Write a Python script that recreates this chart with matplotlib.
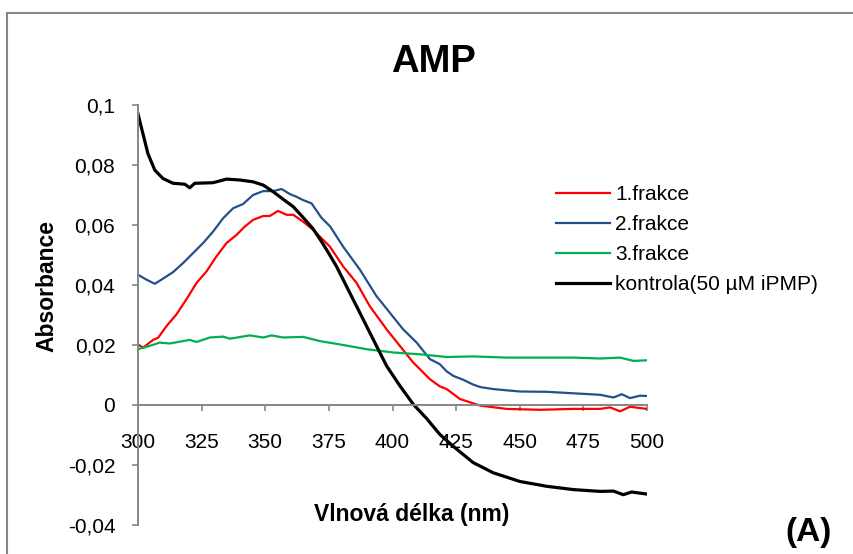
import matplotlib
matplotlib.use("Agg")
import matplotlib.pyplot as plt
from matplotlib.patches import Rectangle

plt.rcParams['font.family'] = ['Liberation Sans', 'DejaVu Sans']

# 1.frakce
wl_1 = [300, 302, 305.9, 307.9, 311.2, 315.1, 319, 323, 326.9, 330.8, 334.8, 338.7, 342, 345.2,
        349.2, 351.8, 355, 358.4, 361, 364.9, 368.8, 375.4, 380.6, 385.9, 391.1, 397.7, 402.9,
        408.1, 414.7, 418.6, 421.3, 426.5, 434.4, 444.9, 458, 471.1, 481.6, 485.5, 489.4, 493.3, 500]
abs_1 = [0.0202, 0.0191, 0.0217, 0.0224, 0.0263, 0.0302, 0.0352, 0.0407, 0.0445, 0.0495, 0.054,
         0.0567, 0.0595, 0.0617, 0.063, 0.063, 0.0647, 0.0634, 0.0634, 0.0611, 0.0584, 0.0528,
         0.0462, 0.0407, 0.0329, 0.0252, 0.0197, 0.0142, 0.0086, 0.0062, 0.0053, 0.002, -0.0002,
         -0.0013, -0.0016, -0.0013, -0.0013, -0.0008, -0.0021, -0.0006, -0.0013]

# 2.frakce
wl_2 = [300, 303.3, 306.6, 309.8, 313.8, 317.7, 321.6, 325.6, 329.5, 333.4, 337.4, 341.3, 345.2,
        349.2, 353.1, 356.4, 359.7, 362.3, 364.9, 368.2, 372, 375.5, 380.6, 387.2, 393.7, 399,
        404.2, 409.5, 414.7, 418.6, 421.3, 423.9, 427.8, 431.7, 434.4, 439.6, 450.1, 460.6, 471.1,
        481.6, 486.8, 490.1, 493.3, 497.3, 500]
abs_2 = [0.0434, 0.0418, 0.0404, 0.0421, 0.0443, 0.0473, 0.0506, 0.054, 0.0578, 0.0622, 0.0656,
         0.067, 0.07, 0.0713, 0.0713, 0.072, 0.0703, 0.0694, 0.0683, 0.0672, 0.0625, 0.0595, 0.0528,
         0.0451, 0.0363, 0.0307, 0.0252, 0.0208, 0.0153, 0.0136, 0.0112, 0.0097, 0.0084, 0.0068,
         0.006, 0.0053, 0.0045, 0.0044, 0.0039, 0.0034, 0.0025, 0.0036, 0.0023, 0.0031, 0.003]

# 3.frakce
wl_3 = [300, 304.6, 308.5, 312.5, 320.3, 323, 328.2, 333.4, 336.1, 343.9, 349.2, 352.5, 357,
        364.9, 371.5, 379.3, 389.8, 400.3, 410.8, 421.3, 431.7, 444.9, 458, 471.1, 481.6, 489.4,
        494.7, 500]
abs_3 = [0.0186, 0.0197, 0.0208, 0.0205, 0.0217, 0.021, 0.0225, 0.0228, 0.0221, 0.0232, 0.0225,
         0.0232, 0.0225, 0.0227, 0.0213, 0.0202, 0.0186, 0.0175, 0.0169, 0.016, 0.0162, 0.0158,
         0.0158, 0.0158, 0.0155, 0.0158, 0.0147, 0.0149]

# kontrola
wl_k = [300, 301.3, 303.9, 306.6, 309.8, 313.8, 318.4, 320.3, 322.3, 329.5, 334.8, 340, 345.2,
        349.2, 353.1, 357, 361, 364.9, 368.8, 372.1, 375, 378, 381.9, 387.2, 392.4, 397.7, 402.9,
        408.1, 413.4, 418.6, 423.9, 431.7, 439.6, 450.1, 460.6, 471.1, 481.6, 486.8, 490.7, 494, 500]
abs_k = [0.097, 0.0926, 0.0838, 0.0783, 0.0755, 0.0739, 0.0736, 0.0724, 0.0739, 0.0741, 0.0753,
         0.075, 0.0744, 0.0733, 0.0711, 0.0686, 0.0661, 0.0625, 0.0587, 0.0545, 0.0505, 0.0462,
         0.0396, 0.0307, 0.0219, 0.013, 0.0064, 0.0003, -0.0045, -0.0098, -0.0138, -0.0192, -0.0226,
         -0.0255, -0.0271, -0.0282, -0.0288, -0.0287, -0.0299, -0.029, -0.0297]

x_ticks = [300, 325, 350, 375, 400, 425, 450, 475, 500]
y_ticks = [-0.04, -0.02, 0, 0.02, 0.04, 0.06, 0.08, 0.1]
y_labels = ["-0,04", "-0,02", "0", "0,02", "0,04", "0,06", "0,08", "0,1"]

W, H = 854, 554
fig = plt.figure(figsize=(W / 100, H / 100), dpi=100)
ax = fig.add_axes([138 / W, 1 - 525 / H, 509 / W, 420 / H])

ax.plot(wl_1, abs_1, color='#FF0000', lw=1.6, label='1.frakce')
ax.plot(wl_2, abs_2, color='#24508A', lw=1.6, label='2.frakce')
ax.plot(wl_3, abs_3, color='#00B050', lw=1.6, label='3.frakce')
ax.plot(wl_k, abs_k, color='black', lw=2.3, label='kontrola(50 µM iPMP)')

ax.set_xlim(300, 500)
ax.set_ylim(-0.04, 0.1)
ax.set_xticks(x_ticks)
ax.set_yticks(y_ticks)
ax.set_yticklabels(y_labels)

gray = '#868686'
for s in ['top', 'right']:
    ax.spines[s].set_visible(False)
ax.spines['bottom'].set_position(('data', 0))
for s in ['left', 'bottom']:
    ax.spines[s].set_color(gray)
    ax.spines[s].set_linewidth(1.4)
ax.tick_params(axis='both', direction='out', length=4.3, width=1.2, color=gray,
               labelsize=15, labelcolor='black')
ax.tick_params(axis='x', pad=16)
ax.tick_params(axis='y', pad=12)

ax.set_xlabel('Vlnová délka (nm)', fontsize=16.5, fontweight='bold')
ax.xaxis.label.set_va('center')
ax.xaxis.set_label_coords((412 - 138) / 509, (525 - 515) / 420)
ax.set_ylabel('Absorbance', fontsize=16.5, fontweight='bold')
ax.yaxis.label.set_va('center')
ax.yaxis.set_label_coords((47 - 138) / 509, (525 - 286) / 420)

fig.text(433 / W, 1 - 62 / H, 'AMP', fontsize=27.5, fontweight='bold', ha='center', va='center')
fig.text(809 / W, 1 - 532 / H, '(A)', fontsize=24, fontweight='bold', ha='center', va='center')

ax.legend(loc='upper left', bbox_to_anchor=(556 / W, 1 - 185 / H),
          bbox_transform=fig.transFigure, frameon=False, fontsize=15,
          handlelength=2.6, handletextpad=0.25, labelspacing=0.53, borderpad=0, borderaxespad=0)

fig.patches.append(Rectangle((7 / W, -0.2), 1.2, 1.2 - 13 / H, transform=fig.transFigure,
                             fill=False, edgecolor=gray, lw=1.5))

fig.savefig('out.png', dpi=100)
